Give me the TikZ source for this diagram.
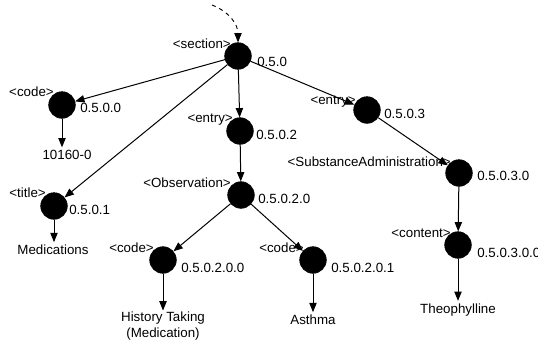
\documentclass[tikz,border=0pt]{standalone}
\usepackage{fontspec}
\setmainfont{Liberation Sans}
\usetikzlibrary{arrows.meta}
\begin{document}
\begin{tikzpicture}[x=0.75pt,y=-0.75pt,
  every node/.style={font=\fontsize{10}{11.5}\selectfont},
  dot/.style={circle,fill=black,draw=black,minimum size=20pt,inner sep=0pt},
  tag/.style={anchor=east,inner sep=0pt},
  num/.style={anchor=west,inner sep=0pt},
  leaf/.style={inner sep=2pt,align=center},
  edge/.style={line width=0.75pt,-{Triangle[length=7pt,width=5.5pt]}}]
\useasboundingbox (0,0) rectangle (538,347);

% tree nodes
\node[dot] (sec) at (238,56) {};
\node[dot] (code) at (62,105) {};
\node[dot] (title) at (54,206) {};
\node[dot] (ent2) at (240,131) {};
\node[dot] (ent3) at (367,110) {};
\node[dot] (obs) at (241,195) {};
\node[dot] (sub) at (459,173) {};
\node[dot] (cont) at (458,245) {};
\node[dot] (hcode) at (163,260) {};
\node[dot] (acode) at (313,260) {};

% element names
\node[tag] at (231,44) {<section>};
\node[tag] at (54,92) {<code>};
\node[tag] at (46,193) {<title>};
\node[tag] at (233,120) {<entry>};
\node[tag] at (356,102) {<entry>};
\node[tag] at (231,183) {<Observation>};
\node[tag] at (451,162) {<SubstanceAdministration>};
\node[tag] at (451,233) {<content>};
\node[tag] at (154,248) {<code>};
\node[tag] at (304,248) {<code>};

% path numbers
\node[num] at (257,62) {0.5.0};
\node[num] at (80,108) {0.5.0.0};
\node[num] at (69,210) {0.5.0.1};
\node[num] at (256,135) {0.5.0.2};
\node[num] at (384,114) {0.5.0.3};
\node[num] at (258,199) {0.5.0.2.0};
\node[num] at (477,176) {0.5.0.3.0};
\node[num] at (477,253) {0.5.0.3.0.0};
\node[num] at (181,268) {0.5.0.2.0.0};
\node[num] at (331,268) {0.5.0.2.0.1};

% text values
\node[leaf] (v1) at (67,155) {10160-0};
\node[leaf] (v2) at (53,250) {Medications};
\node[leaf,inner sep=1pt] (v3) at (163,326) {History Taking\\(Medication)};
\node[leaf] (v4) at (313,320) {Asthma};
\node[leaf] (v5) at (458,310) {Theophylline};

% incoming reference
\coordinate (in) at (212,5);
\draw[line width=0.7pt,dashed,-{Triangle[length=7pt,width=5.5pt]}] (in) .. controls (230,12) and (238,25) .. (sec.north);

% edges
\draw[edge] (sec) -- (code);
\draw[edge] (sec) -- (title);
\draw[edge] (sec) -- (ent2);
\draw[edge] (sec) -- (ent3);
\draw[edge] (ent2) -- (obs);
\draw[edge] (ent3) -- (sub);
\draw[edge] (sub) -- (cont);
\draw[edge] (obs) -- (hcode);
\draw[edge] (obs) -- (acode);
\draw[edge] (code) -- (code|-v1.north);
\draw[edge] (title) -- (title|-v2.north);
\draw[edge] (hcode) -- (hcode|-v3.north);
\draw[edge] (acode) -- (acode|-v4.north);
\draw[edge] (cont) -- (cont|-v5.north);
\end{tikzpicture}
\end{document}
